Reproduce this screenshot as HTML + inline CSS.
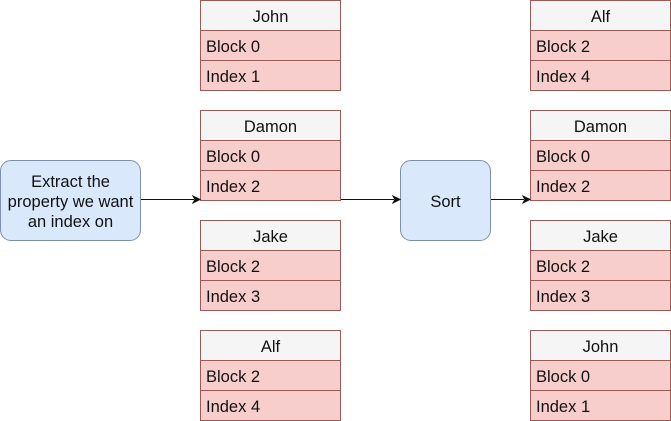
<!DOCTYPE html>
<html><head><style>
body{margin:0;width:671px;height:421px;background:#fff;position:relative;font-family:"Liberation Sans",Arial,sans-serif;font-size:16.5px;color:#111;overflow:hidden}
.t{position:absolute;width:141px;}
.c{box-sizing:border-box;height:31px;border:1px solid #9a5a56;line-height:32px;background:#f8cecc;padding-left:5px;margin-top:-1px;overflow:hidden}
.h{background:#f5f5f5;text-align:center;padding-left:0;margin-top:0}
.b{position:absolute;box-sizing:border-box;background:#dae8fc;border:1px solid #7d8fad;border-radius:11px;display:flex;align-items:center;justify-content:center;text-align:center;line-height:20px;padding-top:2px}
</style></head><body>
<div class="b" style="left:0;top:160px;width:141px;height:81px">Extract the<br>property we want<br>an index on</div>
<div class="b" style="left:400px;top:160px;width:91px;height:81px">Sort</div>
<div class="t" style="left:200px;top:0"><div class="c h">John</div><div class="c">Block 0</div><div class="c">Index 1</div></div>
<div class="t" style="left:200px;top:110px"><div class="c h">Damon</div><div class="c">Block 0</div><div class="c">Index 2</div></div>
<div class="t" style="left:200px;top:220px"><div class="c h">Jake</div><div class="c">Block 2</div><div class="c">Index 3</div></div>
<div class="t" style="left:200px;top:330px"><div class="c h">Alf</div><div class="c">Block 2</div><div class="c">Index 4</div></div>
<div class="t" style="left:530px;top:0"><div class="c h">Alf</div><div class="c">Block 2</div><div class="c">Index 4</div></div>
<div class="t" style="left:530px;top:110px"><div class="c h">Damon</div><div class="c">Block 0</div><div class="c">Index 2</div></div>
<div class="t" style="left:530px;top:220px"><div class="c h">Jake</div><div class="c">Block 2</div><div class="c">Index 3</div></div>
<div class="t" style="left:530px;top:330px"><div class="c h">John</div><div class="c">Block 0</div><div class="c">Index 1</div></div>
<svg width="671" height="421" style="position:absolute;left:0;top:0">
<g stroke="#111" stroke-width="1" fill="#111">
<line x1="141" y1="199.5" x2="194" y2="199.5"/><path d="M200 199.5 L193 196 L195 199.5 L193 203Z"/>
<line x1="341" y1="199.5" x2="394" y2="199.5"/><path d="M400 199.5 L393 196 L395 199.5 L393 203Z"/>
<line x1="491" y1="199.5" x2="524" y2="199.5"/><path d="M530 199.5 L523 196 L525 199.5 L523 203Z"/>
</g></svg>
</body></html>
